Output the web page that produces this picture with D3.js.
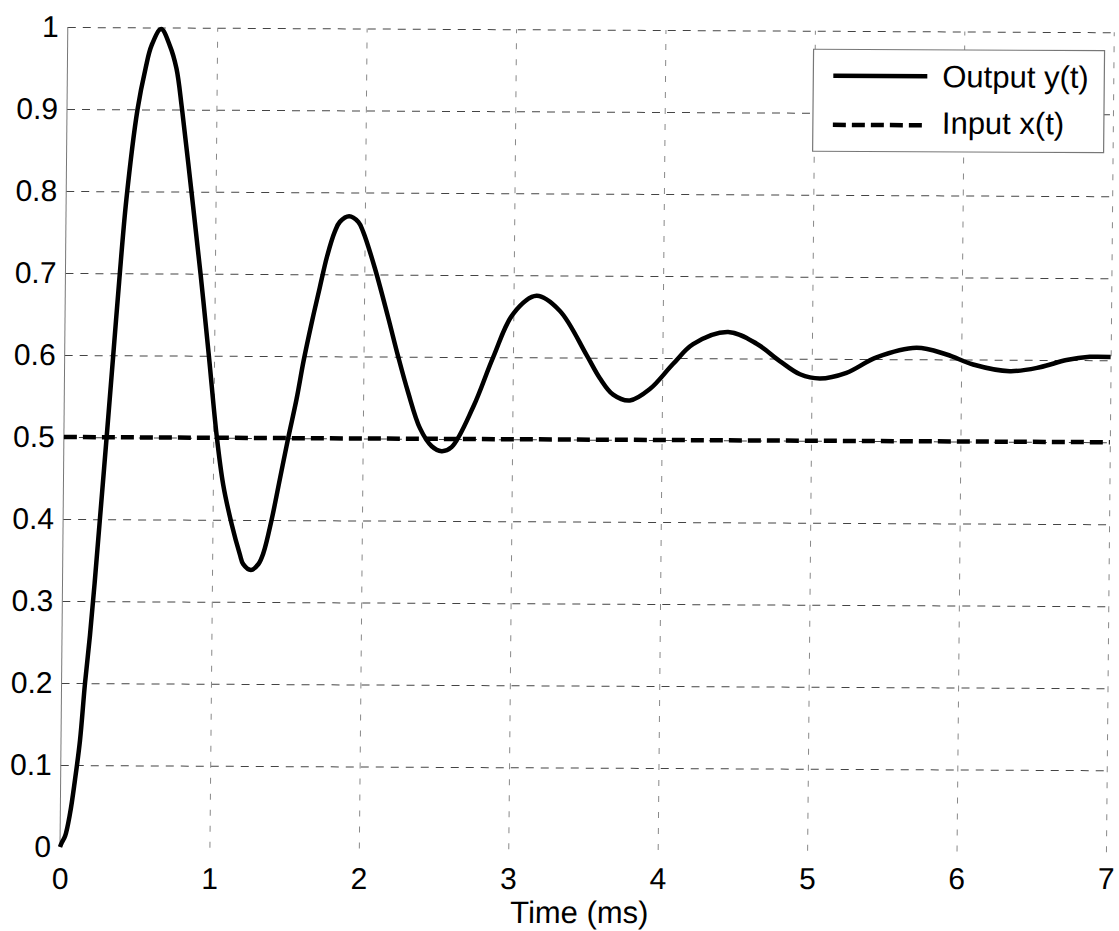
<!DOCTYPE html>
<html>
<head>
<meta charset="utf-8">
<script src="https://cdn.jsdelivr.net/npm/d3@7"></script>
<style>
  body { margin: 0; background: #fff; }
  svg { display: block; }
  text { font-family: "Liberation Sans", Arial, sans-serif; fill: #000; }
</style>
</head>
<body>
<svg id="step-chart" width="1119" height="931"></svg>
<script>
'use strict';

// values
var timeMs = [0, 0.011, 0.033, 0.065, 0.096, 0.127, 0.157, 0.187, 0.215, 0.245, 0.286, 0.325, 0.36, 0.403,
    0.472, 0.523, 0.562, 0.625, 0.684, 0.73, 0.77, 0.838, 0.904, 0.965, 1.022, 1.069, 1.128, 1.185, 1.208,
    1.26, 1.309, 1.343, 1.395, 1.448, 1.501, 1.555, 1.6, 1.65, 1.703, 1.75, 1.8, 1.833, 1.895, 1.957, 1.99,
    2.07, 2.162, 2.232, 2.3, 2.382, 2.462, 2.528, 2.595, 2.737, 2.868, 2.999, 3.154, 3.31, 3.493, 3.583,
    3.673, 3.785, 3.918, 4.073, 4.205, 4.439, 4.63, 4.786, 4.922, 5.055, 5.233, 5.433, 5.7, 5.902, 6.08,
    6.326, 6.527, 6.705, 6.86, 7]
var outputY = [0, 0.005, 0.013, 0.041, 0.082, 0.13, 0.2, 0.258, 0.322, 0.397, 0.5, 0.6, 0.69, 0.79,
    0.9, 0.95, 0.978, 0.998, 0.978, 0.95, 0.9, 0.8, 0.7, 0.6, 0.503, 0.443, 0.395, 0.358, 0.346,
    0.339, 0.346, 0.36, 0.4, 0.45, 0.5, 0.548, 0.595, 0.64, 0.684, 0.722, 0.752, 0.764, 0.771, 0.764, 0.752,
    0.708, 0.648, 0.6, 0.557, 0.513, 0.491, 0.485, 0.49, 0.539, 0.6, 0.653, 0.675, 0.657, 0.603, 0.575,
    0.555, 0.548, 0.562, 0.593, 0.617, 0.632, 0.618, 0.597, 0.581, 0.576, 0.583, 0.602, 0.614, 0.606, 0.594,
    0.586, 0.591, 0.6, 0.604, 0.604]

var inputTime = [0, 7]
var inputX = [0.5, 0.5]

var xTicks = [0, 1, 2, 3, 4, 5, 6, 7]
var xTickLabels = ['0', '1', '2', '3', '4', '5', '6', '7']
var yTicks = [0, 0.1, 0.2, 0.3, 0.4, 0.5, 0.6, 0.7, 0.8, 0.9, 1]
var yTickLabels = ['0', '0.1', '0.2', '0.3', '0.4', '0.5', '0.6', '0.7', '0.8', '0.9', '1']
var legendLabels = ['Output y(t)', 'Input x(t)']
var xTitle = 'Time (ms)'

var svg = d3.select('#step-chart')

var plotLeft = 60, plotRight = 1106, plotTop = 27, plotBottom = 847

// the scan is slightly sheared; mimic it
var shearX = 0.0095
var shearY = 0.005

var x = d3.scaleLinear().domain([0, 7]).range([plotLeft, plotRight])
var y = d3.scaleLinear().domain([0, 1]).range([plotBottom, plotTop])

var root = svg.append('g')
    .attr('transform', 'matrix(1,0,' + (-shearX) + ',1,' + (shearX * plotBottom) + ',0)')

var plot = root.append('g')
    .attr('transform', 'matrix(1,' + shearY + ',0,1,0,' + (-shearY * plotLeft) + ')')

// grid
var hGrid = plot.append('g')
    .attr('transform', 'translate(' + plotLeft + ',0)')
    .call(d3.axisLeft(y).tickValues(yTicks.slice(1)).tickSize(-(plotRight - plotLeft)).tickFormat(''))
hGrid.select('.domain').remove()
hGrid.selectAll('line')
    .attr('stroke', '#444')
    .attr('stroke-width', 1)
    .attr('stroke-dasharray', '8,7')

var vGrid = plot.append('g')
    .attr('transform', 'translate(0,' + plotBottom + ')')
    .call(d3.axisBottom(x).tickValues(xTicks.slice(1)).tickSize(-(plotBottom - plotTop)).tickFormat(''))
vGrid.select('.domain').remove()
vGrid.selectAll('line')
    .attr('stroke', '#888')
    .attr('stroke-width', 1)
    .attr('stroke-dasharray', '6,10')

plot.append('line')
    .attr('x1', x(0)).attr('x2', x(0))
    .attr('y1', y(0)).attr('y2', y(1))
    .attr('stroke', '#777')
    .attr('stroke-width', 1)

// series
var line = d3.line()
    .x(function(d) { return x(d[0]) })
    .y(function(d) { return y(d[1]) })
    .curve(d3.curveCatmullRom.alpha(0.5))

plot.append('path')
    .datum(d3.zip(inputTime, inputX))
    .attr('d', line)
    .attr('fill', 'none')
    .attr('stroke', '#000')
    .attr('stroke-width', 4.5)
    .attr('stroke-dasharray', '13,6')

plot.append('path')
    .datum(d3.zip(timeMs, outputY))
    .attr('d', line)
    .attr('fill', 'none')
    .attr('stroke', '#000')
    .attr('stroke-width', 4.5)
    .attr('stroke-linejoin', 'round')

// axes labels
var xAxis = root.append('g')
    .attr('transform', 'translate(0,' + plotBottom + ')')
    .call(d3.axisBottom(x).tickValues(xTicks).tickSize(0).tickPadding(21)
        .tickFormat(function(d, i) { return xTickLabels[i] }))
xAxis.select('.domain').remove()
xAxis.attr('font-family', null).attr('font-size', 30)

var yAxis = root.append('g')
    .attr('transform', 'translate(' + plotLeft + ',0)')
    .call(d3.axisLeft(y).tickValues(yTicks).tickSize(0).tickPadding(9)
        .tickFormat(function(d, i) { return yTickLabels[i] }))
yAxis.select('.domain').remove()
yAxis.attr('font-family', null).attr('font-size', 30)

root.append('text')
    .attr('x', 580)
    .attr('y', 923)
    .attr('text-anchor', 'middle')
    .style('font-size', '31px')
    .text(xTitle)

// legend
var legend = plot.append('g').attr('transform', 'translate(806,45.5)')
legend.append('rect')
    .attr('width', 291)
    .attr('height', 102)
    .attr('fill', '#fff')
    .attr('stroke', '#777')
    .attr('stroke-width', 1.2)

var rows = [
    { label: legendLabels[0], dash: null, lineY: 26.5, textY: 26.5 },
    { label: legendLabels[1], dash: '13,6', lineY: 75.5, textY: 73 }
]
var item = legend.selectAll('g.item')
    .data(rows)
    .enter().append('g')
    .attr('class', 'item')
item.append('line')
    .attr('x1', 20).attr('x2', 114)
    .attr('y1', function(d) { return d.lineY })
    .attr('y2', function(d) { return d.lineY })
    .attr('stroke', '#000')
    .attr('stroke-width', 4.5)
    .attr('stroke-dasharray', function(d) { return d.dash })
item.append('text')
    .attr('x', 129)
    .attr('y', function(d) { return d.textY })
    .attr('dy', '0.35em')
    .style('font-size', '31px')
    .text(function(d) { return d.label })
</script>
</body>
</html>
